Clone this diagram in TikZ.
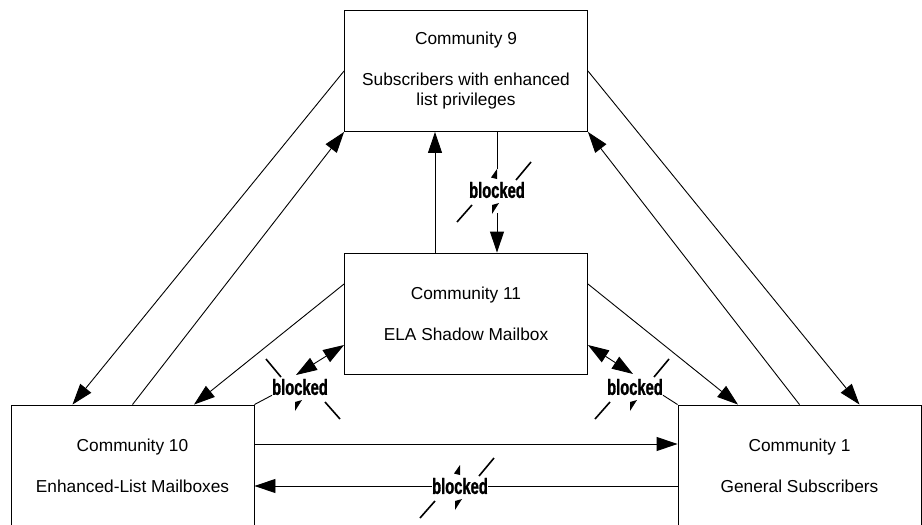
\documentclass[tikz,border=0pt]{standalone}
\usepackage{fontspec}
\setmainfont{Liberation Sans}
\newfontfamily\blockfont[FakeStretch=0.67,FakeBold=1.2]{Liberation Sans}
\usetikzlibrary{arrows.meta}

\tikzset{
  bigtri/.tip={Triangle[length=21pt,width=14pt]},
  community/.style={draw, line width=0.9pt, minimum width=243pt, minimum height=121pt,
    inner sep=0pt, align=center, font=\fontsize{17.3}{20}\selectfont},
  link/.style={line width=0.9pt, -bigtri},
  twoway/.style={line width=0.9pt, bigtri-bigtri},
  plainlink/.style={line width=0.9pt},
  blocktag/.style={inner sep=0pt, font=\blockfont\bfseries\fontsize{22}{22}\selectfont},
  slash/.style={line width=1.6pt}
}

% broken-link mark round a "blocked" tag: node, slant (1 or -1), upper wedge (1 or 0)
\newcommand{\boltmark}[3]{%
  \begin{scope}[shift={(#1.center)}]
    \draw[slash] (34*#2,-28) -- (19*#2,-10);
    \draw[slash] (-25*#2,15) -- (-40*#2,32);
    \fill (-5,15) -- (2,13) -- (-5,24) -- cycle;
    \ifnum#3=1 \fill (0,-21) -- (0,-11) -- (-6,-12.5) -- cycle;\fi
  \end{scope}}

\begin{document}
\begin{tikzpicture}[x=1pt, y=-1pt]
        \useasboundingbox (0,0) rectangle (922,525);

        % Communities
        \node[community] (c9) at (466,71) {Community 9\\[21pt]Subscribers with enhanced\\list privileges};
        \node[community] (c11) at (466,313.5) {Community 11\\[21pt]ELA Shadow Mailbox};
        \node[community] (c10) at (132.5,465.5) {Community 10\\[21pt]Enhanced-List Mailboxes};
        \node[community] (c1) at (799.5,465.5) {Community 1\\[21pt]General Subscribers};

        % Blocked tags
        \node[blocktag] (b1) at (497,190) {blocked};
        \node[blocktag] (b2) at (300,387) {blocked};
        \node[blocktag] (b3) at (635,387) {blocked};
        \node[blocktag] (b4) at (460,486) {blocked};
        \boltmark{b1}{1}{1}
        \boltmark{b2}{-1}{0}
        \boltmark{b3}{1}{0}
        \boltmark{b4}{1}{1}

        % Outer links
        \draw[link] (c9.west) -- ([xshift=-60pt]c10.north);
        \draw[link] (c10.north) -- (c9.south west);
        \draw[link] (c9.east) -- ([xshift=60pt]c1.north);
        \draw[link] (c1.north) -- (c9.south east);

        % Links of Community 11
        \draw[link] ([xshift=-31pt]c11.north) -- ([xshift=-31pt]c9.south);
        \draw[plainlink] ([xshift=31pt]c9.south) -- ([yshift=21pt]b1.center);
        \draw[link] ([yshift=-23pt]b1.center) -- ([xshift=31pt]c11.north);
        \draw[link] ([yshift=29.5pt]c11.west) -- ([xshift=61.5pt]c10.north);
        \draw[link] ([yshift=29.5pt]c11.east) -- ([xshift=-61.5pt]c1.north);
        \draw[twoway] ([yshift=-31.5pt]c11.west) -- ([shift={(-4pt,12pt)}]b2.center);
        \draw[plainlink] (b2.south west) -- (c10.north east);
        \draw[twoway] ([yshift=-31.5pt]c11.east) -- ([shift={(-2pt,13pt)}]b3.center);
        \draw[plainlink] (b3.south east) -- (c1.north west);

        % Bottom links
        \draw[link] ([yshift=21.5pt]c10.east) -- ([yshift=21.5pt]c1.west);
        \draw[plainlink] ([yshift=-20.5pt]c1.west) -- (b4.east);
        \draw[link] (b4.west) -- ([yshift=-20.5pt]c10.east);
    \end{tikzpicture}
\end{document}
